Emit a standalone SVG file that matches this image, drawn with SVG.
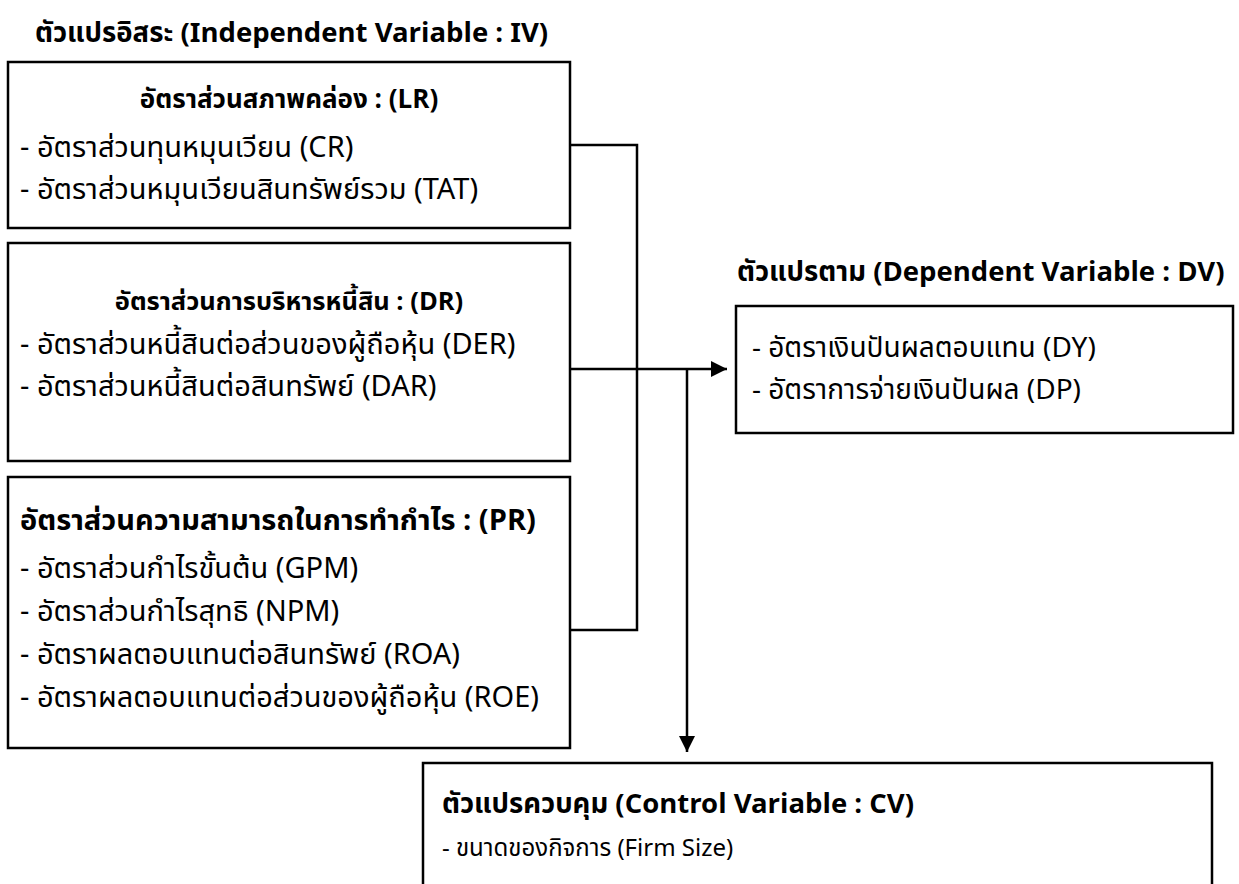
<svg xmlns="http://www.w3.org/2000/svg" width="1239" height="884" viewBox="0 0 1239 884">
<style>
text{font-family:"Noto Sans Thai","Leelawadee UI","Noto Sans","DejaVu Sans",sans-serif;fill:#000;font-size:29px}
.t{font-weight:bold;font-size:27.5px}
.h{font-weight:bold;font-size:26px}
.s{font-size:24px}
.c{text-anchor:middle}
.box{fill:#fff;stroke:#000;stroke-width:2.5}
.ln{fill:none;stroke:#000;stroke-width:2.5}
</style>
<defs>
<marker id="ah" viewBox="0 0 10 10" refX="10" refY="5" markerWidth="6.4" markerHeight="6.4" markerUnits="strokeWidth" orient="auto">
<path d="M0,0 L10,5 L0,10 z" fill="#000"/>
</marker>
</defs>
<rect width="1239" height="884" fill="#fff"/>
<text class="t" x="35" y="42">ตัวแปรอิสระ (Independent Variable : IV)</text>
<text class="t" x="737" y="281">ตัวแปรตาม (Dependent Variable : DV)</text>
<g id="connectors">
<path class="ln" d="M570,145 H637 V630 H570"/>
<path class="ln" d="M570,369 H727" marker-end="url(#ah)"/>
<path class="ln" d="M687,369 V752" marker-end="url(#ah)"/>
</g>
<g id="lr">
<rect class="box" x="8" y="62" width="562" height="166"/>
<text class="h c" x="289" y="108">อัตราส่วนสภาพคล่อง : (LR)</text>
<text x="20" y="157">- อัตราส่วนทุนหมุนเวียน (CR)</text>
<text x="20" y="199">- อัตราส่วนหมุนเวียนสินทรัพย์รวม (TAT)</text>
</g>
<g id="dr">
<rect class="box" x="8" y="243" width="562" height="218"/>
<text class="h c" x="289" y="310" style="font-size:25.5px">อัตราส่วนการบริหารหนี้สิน : (DR)</text>
<text x="20" y="354">- อัตราส่วนหนี้สินต่อส่วนของผู้ถือหุ้น (DER)</text>
<text x="20" y="396">- อัตราส่วนหนี้สินต่อสินทรัพย์ (DAR)</text>
</g>
<g id="pr">
<rect class="box" x="8" y="477" width="562" height="271"/>
<text class="h" x="20" y="530" style="font-size:29px">อัตราส่วนความสามารถในการทำกำไร : (PR)</text>
<text x="20" y="578">- อัตราส่วนกำไรขั้นต้น (GPM)</text>
<text x="20" y="621">- อัตราส่วนกำไรสุทธิ (NPM)</text>
<text x="20" y="664">- อัตราผลตอบแทนต่อสินทรัพย์ (ROA)</text>
<text x="20" y="707">- อัตราผลตอบแทนต่อส่วนของผู้ถือหุ้น (ROE)</text>
</g>
<g id="dv">
<rect class="box" x="736" y="306" width="497" height="127"/>
<text x="752" y="357" style="font-size:28px">- อัตราเงินปันผลตอบแทน (DY)</text>
<text x="752" y="399" style="font-size:28px">- อัตราการจ่ายเงินปันผล (DP)</text>
</g>
<g id="cv">
<rect class="box" x="423" y="763" width="789" height="140"/>
<text class="t" x="442" y="813">ตัวแปรควบคุม (Control Variable : CV)</text>
<text class="s" x="442" y="856">- ขนาดของกิจการ (Firm Size)</text>
</g>
</svg>
